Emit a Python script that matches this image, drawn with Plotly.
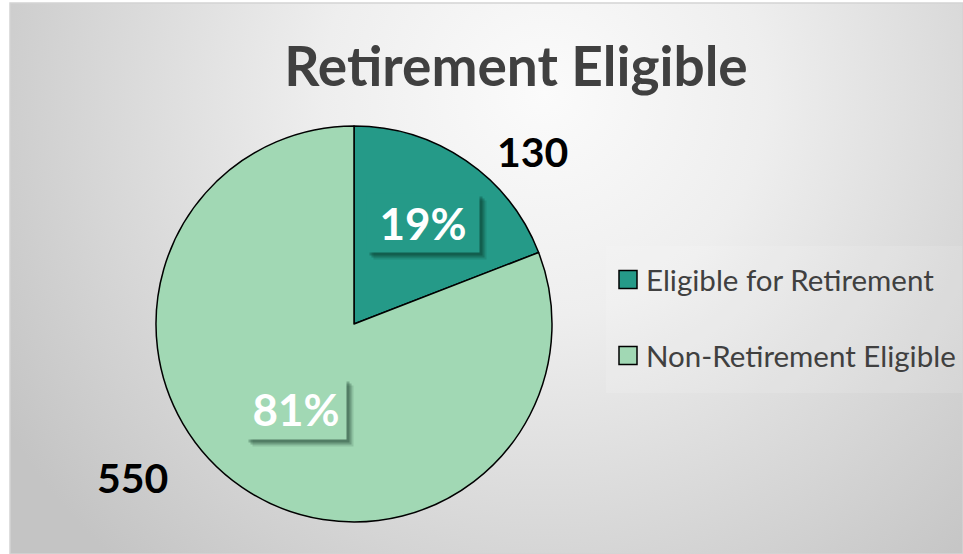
import math
import base64
import plotly.graph_objects as go

# ---- data ----
labels = ["Eligible for Retirement", "Non-Retirement Eligible"]
values = [130, 550]
colors = ["#259A88", "#A1D8B4"]
title_text = "Retirement Eligible"

W, H = 963, 554
FONT = "Lato, 'Open Sans', sans-serif"

# pie geometry (pixels)
cx, cy, R = 354, 324, 198

def px(x):
    return x / W

def py(y):
    return 1 - y / H

fig = go.Figure()
fig.add_trace(go.Pie(
    labels=labels, values=values, sort=False, direction="clockwise", rotation=0,
    marker=dict(colors=colors, line=dict(color="#000000", width=1.5)),
    textinfo="none", hoverinfo="label+value+percent", showlegend=False,
    domain=dict(x=[px(cx - R), px(cx + R)], y=[py(cy + R), py(cy - R)]),
))

# background gradient (radial) as an svg image
svg = f"""<svg xmlns='http://www.w3.org/2000/svg' width='{W}' height='{H}' viewBox='0 0 {W} {H}'>
<defs><radialGradient id='g' gradientUnits='userSpaceOnUse' cx='540' cy='90' r='640'>
<stop offset='0' stop-color='#fbfbfb'/><stop offset='0.35' stop-color='#eeeeee'/><stop offset='1' stop-color='#c4c4c4'/>
</radialGradient></defs><rect x='0' y='0' width='{W}' height='{H}' fill='url(#g)'/></svg>"""
src = "data:image/svg+xml;base64," + base64.b64encode(svg.encode()).decode()

annotations = []
shapes = []

# percent labels and value labels computed from data
total = sum(values)
pct_frac = [0.62, 0.52]
pct_box = [(112, 58), (100, 60)]
val_shift = [(67, 9), (-110, 10)]
pct_text_col = "#ffffff"
shadow_layers = [((7, -7), "rgba(0,30,20,0.12)"), ((5, -5), "rgba(0,30,20,0.22)"), ((3, -3), "rgba(0,30,20,0.25)")]
cum = 0
for i, v in enumerate(values):
    mid = (cum + v / 2) / total * 2 * math.pi
    cum += v
    s, c = math.sin(mid), math.cos(mid)
    lx = cx + pct_frac[i] * R * s
    ly = cy - pct_frac[i] * R * c
    pct = f"{round(100 * v / total)}%"
    bw, bh = pct_box[i]
    for (sx, sy), scol in shadow_layers:
        annotations.append(dict(x=px(lx), y=py(ly), xref="paper", yref="paper", text=" ",
                                xanchor="center", yanchor="middle",
                                showarrow=False, width=bw, height=bh, bgcolor=scol,
                                xshift=sx, yshift=sy, borderpad=0, font=dict(size=10, family=FONT)))
    annotations.append(dict(x=px(lx), y=py(ly), xref="paper", yref="paper",
                            xanchor="center", yanchor="middle",
                            text=f"<b>{pct}</b>", showarrow=False, width=bw, height=bh,
                            bgcolor=colors[i], borderpad=0,
                            font=dict(size=44, family=FONT, color=pct_text_col)))
    ex = cx + R * s
    ey = cy - R * c
    annotations.append(dict(x=px(ex), y=py(ey), xref="paper", yref="paper",
                            xanchor="center", yanchor="middle",
                            text=f"<b>{v}</b>", showarrow=False,
                            xshift=val_shift[i][0], yshift=val_shift[i][1],
                            font=dict(size=41, family=FONT, color="#000000")))

# legend (manual, to match spacing)
shapes.append(dict(type="rect", xref="paper", yref="paper", x0=px(606), x1=px(963),
                   y0=py(393), y1=py(246), fillcolor="rgba(255,255,255,0.12)",
                   line=dict(width=0), layer="below"))
leg_y = [279.5, 355.5]
for i, lab in enumerate(labels):
    shapes.append(dict(type="rect", xref="paper", yref="paper",
                       x0=px(619), x1=px(637), y0=py(leg_y[i] + 9), y1=py(leg_y[i] - 9),
                       fillcolor=colors[i], line=dict(color="#000000", width=1.5)))
    annotations.append(dict(x=px(644), y=py(leg_y[i]), xref="paper", yref="paper",
                            text=lab, showarrow=False, xanchor="left", yanchor="middle",
                            font=dict(size=29.5, family=FONT, color="#404040")))

# chart border
shapes.append(dict(type="rect", xref="paper", yref="paper", x0=px(10), x1=px(963),
                   y0=py(554), y1=py(3), line=dict(color="#d4d4d4", width=1.5),
                   fillcolor="rgba(0,0,0,0)", layer="below"))

fig.update_layout(
    width=W, height=H, margin=dict(l=0, r=0, t=0, b=0),
    paper_bgcolor="#ffffff", plot_bgcolor="rgba(0,0,0,0)",
    title=dict(text=f"<b>{title_text}</b>", x=px(516), y=py(67), xanchor="center",
               yanchor="middle", font=dict(size=55, family=FONT, color="#404040")),
    images=[dict(source=src, xref="paper", yref="paper", x=px(10), y=py(3),
                 sizex=px(963) - px(10), sizey=py(3), sizing="stretch",
                 xanchor="left", yanchor="top", layer="below")],
    annotations=annotations, shapes=shapes, showlegend=False,
)

fig.write_html("out.html", config={"displayModeBar": False},
               post_script="document.body.style.margin='0';")
